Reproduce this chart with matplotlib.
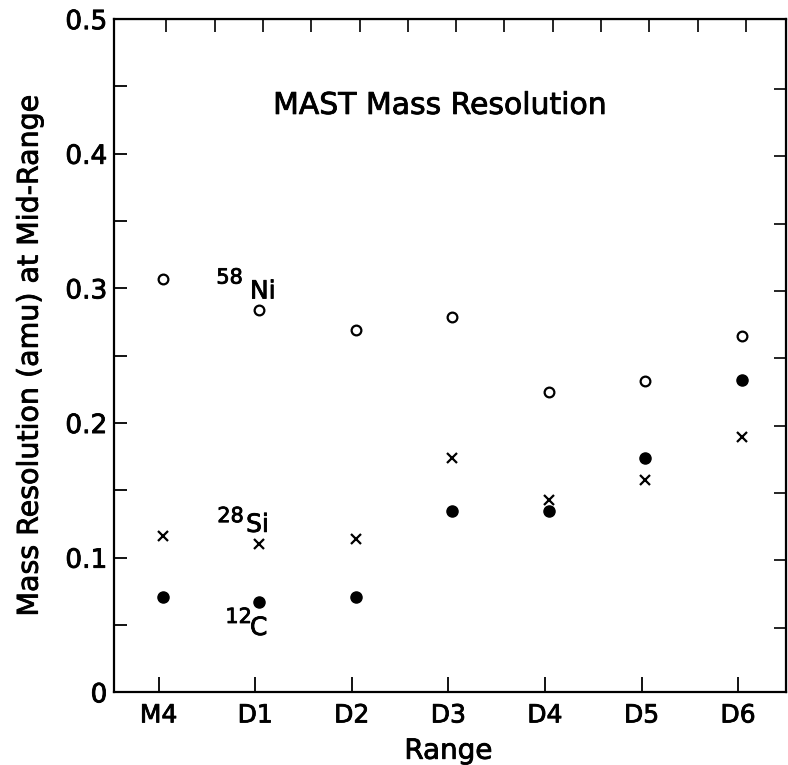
import numpy as np
import matplotlib
matplotlib.use('Agg')
from matplotlib import pyplot as plt
from matplotlib import patheffects

plt.rcParams['font.family'] = ['DejaVu Sans']

ranges = ['M4', 'D1', 'D2', 'D3', 'D4', 'D5', 'D6']
ni58 = [0.307, 0.284, 0.269, 0.279, 0.223, 0.231, 0.265]
si28 = [0.116, 0.110, 0.114, 0.174, 0.143, 0.158, 0.190]
c12 = [0.071, 0.067, 0.071, 0.135, 0.135, 0.174, 0.232]

xpos = np.arange(len(ranges))
shift = 0.04  # points sit a little right of the tick marks

# the scanned lettering is a bit heavier than DejaVu regular
heavy = [patheffects.withStroke(linewidth=0.6, foreground='black')]

fig = plt.figure(figsize=(7.88, 7.65), dpi=100)
ax = fig.add_axes([0.145, 0.095, 0.853, 0.880])

ax.plot(xpos + shift, ni58, 'o', ms=7, mfc='white', mec='black', mew=1.6, ls='none')
ax.plot(xpos + shift, si28, 'x', ms=7, mec='black', mew=1.6, ls='none')
ax.plot(xpos + shift, c12, 'o', ms=8, mfc='black', mec='black', ls='none')

ax.set_xlim(-0.46, 6.5)
ax.set_ylim(0, 0.5)

ax.set_xticks(xpos)
ax.set_xticklabels(ranges)
ax.set_yticks([0, 0.1, 0.2, 0.3, 0.4, 0.5])
ax.set_yticklabels(['0', '0.1', '0.2', '0.3', '0.4', '0.5'])
ax.set_yticks([0.05, 0.15, 0.25, 0.35, 0.45], minor=True)

ax.tick_params(axis='x', direction='in', length=11, width=1.3, labelsize=18, pad=8)
ax.tick_params(axis='y', which='both', direction='in', length=9.5, width=1.3, labelsize=19, pad=5)
for s in ax.spines.values():
    s.set_linewidth(1.6)

top = ax.secondary_xaxis('top')
top.set_xticks(0.08 + 0.5 * np.arange(13))
top.tick_params(direction='in', length=9, width=1.2, labeltop=False)
right = ax.secondary_yaxis('right')
right.set_yticks(0.048 + 0.05 * np.arange(9))
right.tick_params(direction='in', length=9, width=1.2, labelright=False)

ax.set_xlabel('Range', fontsize=20)
ax.xaxis.set_label_coords(0.497, -0.066)
ax.set_ylabel('Mass Resolution (amu) at Mid-Range', fontsize=20.5)
ax.yaxis.set_label_coords(-0.105, 0.5)

ax.text(2.91, 0.4296, 'MAST Mass Resolution', fontsize=21.5, ha='center', va='baseline')

# isotope labels: mass number as a raised smaller text
ax.text(0.597, 0.3036, '58', fontsize=15, ha='left', va='baseline')
ax.text(0.945, 0.2925, 'Ni', fontsize=18, ha='left', va='baseline')
ax.text(0.607, 0.1264, '28', fontsize=15, ha='left', va='baseline')
ax.text(0.905, 0.1192, 'Si', fontsize=18, ha='left', va='baseline')
ax.text(0.690, 0.0515, '12', fontsize=15, ha='left', va='baseline')
ax.text(0.945, 0.0426, 'C', fontsize=18, ha='left', va='baseline')

for t in ax.texts + ax.get_xticklabels() + ax.get_yticklabels() + [ax.xaxis.label, ax.yaxis.label]:
    t.set_path_effects(heavy)

fig.savefig('out.png', dpi=100)
